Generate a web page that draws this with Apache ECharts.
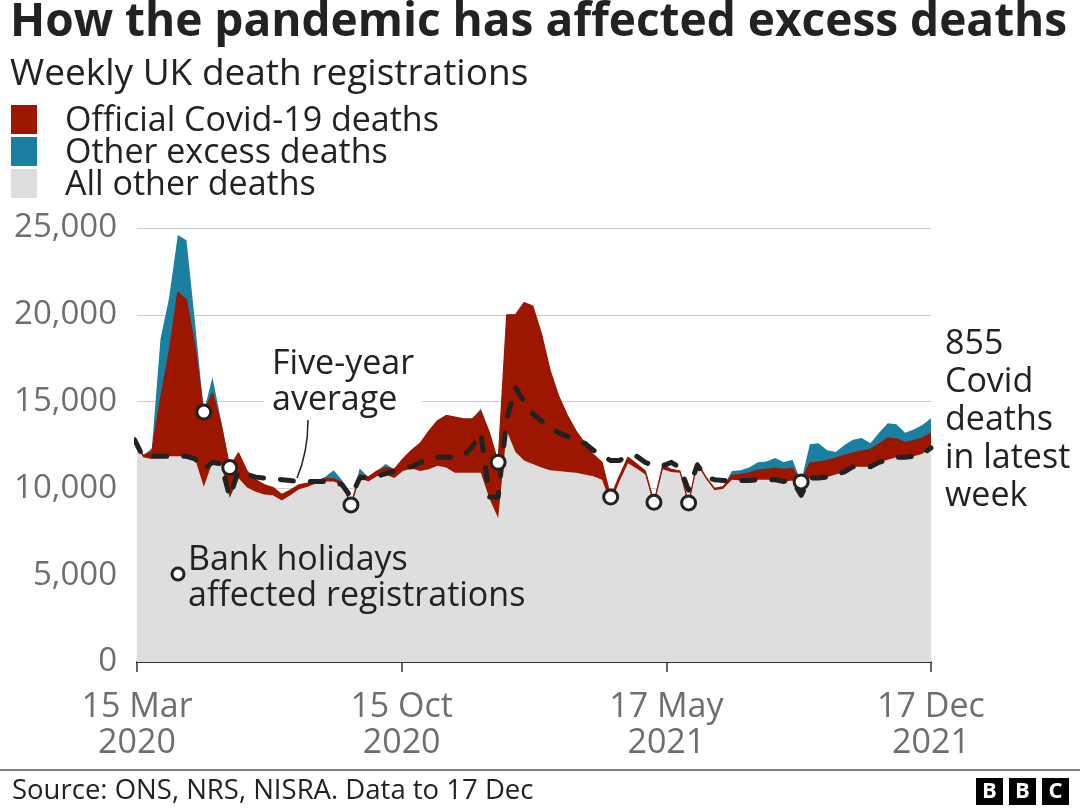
<!DOCTYPE html>
<html><head><meta charset="utf-8">
<script src="https://cdn.jsdelivr.net/npm/echarts@6/dist/echarts.min.js"></script>
<style>html,body{margin:0;padding:0;background:#fff}#c{width:1080px;height:810px}</style>
</head><body><div id="c"></div>
<script>
// Weekly UK death registrations, weeks ending 13 Mar 2020 ... 17 Dec 2021
// x position = days after 15 Mar 2020 (first week ends two days before)
const firstWeekOffsetDays = -2;
const daysPerWeek = 7;
const tickLabels = ['15 Mar\n2020', '15 Oct\n2020', '17 May\n2021', '17 Dec\n2021'];
const tickDays = [0, 214, 428, 642];

const allOtherDeaths = [
  12700, 11800, 11700, 11850, 11850, 11850, 11850, 11700, 10100, 11500,
  11400, 9450, 10600, 10050, 9800, 9650, 9600, 9300, 9600, 9950,
  10100, 10300, 10400, 10400, 10200, 8900, 10600, 10400, 10700, 10800,
  10600, 11000, 11150, 11000, 11100, 11300, 11200, 10900, 10900, 10900,
  10900, 9400, 8300, 13300, 12100, 11600, 11400, 11200, 11050, 11000,
  10950, 10900, 10800, 10700, 10500, 9150, 10400, 11450, 11150, 10800,
  9050, 11100, 10950, 10900, 9080, 11400, 10550, 9900, 9980, 10500,
  10450, 10450, 10500, 10500, 10500, 10400, 10450, 9600, 10600, 10600,
  10650, 10800, 10950, 11250, 11250, 11250, 11500, 11650, 11800, 11800,
  11850, 12000, 12330
];
const officialCovidDeaths = [
  20, 100, 400, 3300, 6000, 9450, 9000, 6400, 4300, 4000,
  2300, 1750, 1450, 950, 700, 550, 450, 350, 300, 250,
  200, 150, 150, 150, 150, 150, 200, 250, 300, 400,
  500, 700, 1050, 1600, 2200, 2600, 3000, 3200, 3100, 3100,
  3550, 3800, 3200, 6700, 7900, 9100, 9100, 7700, 5750, 4300,
  3250, 2400, 1800, 1250, 1000, 350, 300, 350, 250, 200,
  150, 150, 150, 100, 80, 100, 100, 100, 120, 250,
  350, 450, 550, 600, 650, 700, 700, 770, 860, 920,
  950, 950, 950, 800, 900, 1000, 1050, 1250, 1050, 850,
  900, 900, 855
];
const otherExcessDeaths = [
  0, 0, 200, 3450, 3150, 3300, 3450, 1400, 0, 900,
  200, 0, 0, 0, 0, 0, 0, 0, 0, 0,
  0, 0, 100, 500, 100, 0, 350, 0, 0, 200,
  0, 0, 0, 0, 0, 0, 0, 0, 0, 0,
  150, 0, 0, 0, 0, 0, 0, 0, 0, 0,
  0, 0, 0, 0, 0, 0, 0, 0, 0, 0,
  0, 250, 0, 0, 0, 0, 0, 0, 0, 250,
  250, 300, 450, 450, 600, 400, 500, 0, 1090, 1080,
  600, 350, 600, 750, 750, 350, 650, 850, 850, 550,
  650, 750, 860
];
const fiveYearAverage = [
  12800, 11800, 11850, 11850, 11850, 11850, 11850, 11700, 11100, 11500,
  11400, 9500, 11000, 10800, 10650, 10600, 10550, 10500, 10450, 10400,
  10400, 10400, 10400, 10400, 10200, 9500, 10600, 10650, 10700, 10850,
  11000, 11150, 11250, 11500, 11700, 11800, 11800, 11800, 11850, 12400,
  13200, 9500, 9500, 14000, 15800, 15000, 14300, 13900, 13500, 13200,
  13000, 12800, 12600, 12200, 11900, 11600, 11600, 11900, 11850, 11500,
  11300, 11300, 11500, 11200, 9900, 11350, 10650, 10500, 10450, 10500,
  10450, 10450, 10500, 10500, 10500, 10400, 10450, 9600, 10600, 10600,
  10650, 10800, 10950, 11250, 11250, 11250, 11500, 11650, 11800, 11800,
  11850, 12000, 12330
];
const bankHolidayWeeks = [8, 11, 25, 42, 55, 60, 64, 77];

const seriesNames = ['All other deaths', 'Official Covid-19 deaths', 'Other excess deaths'];
const colors = { grey: '#dedede', red: '#9c1600', blue: '#1a80a1', ink: '#222222', axisText: '#6e6e6e' };
const FONT = '"Open Sans"';

const xOf = k => firstWeekOffsetDays + daysPerWeek * k;
// cumulative layer tops (each layer drawn as an area from zero; lower layers painted over upper ones)
const greyTop = allOtherDeaths.map((v, k) => [xOf(k), v]);
const redTop = allOtherDeaths.map((v, k) => [xOf(k), v + officialCovidDeaths[k]]);
const blueTop = allOtherDeaths.map((v, k) => [xOf(k), v + officialCovidDeaths[k] + otherExcessDeaths[k]]);
const avgPts = fiveYearAverage.map((v, k) => [xOf(k), v]);

const chart = echarts.init(document.getElementById('c'), null, { renderer: 'canvas' });

const option = {
  animation: false,
  backgroundColor: '#ffffff',
  grid: { left: 137, right: 149, top: 228, bottom: 148, containLabel: false },
  xAxis: {
    type: 'value', min: 0, max: 642, interval: 214,
    axisLine: { show: true, lineStyle: { color: '#333', width: 2 } },
    axisTick: { show: true, length: 10, lineStyle: { color: '#333', width: 1.5 } },
    splitLine: { show: false },
    axisLabel: {
      margin: 27, color: colors.axisText, fontFamily: FONT, fontSize: 34, lineHeight: 36,
      formatter: v => { const i = tickDays.indexOf(Math.round(v)); return i >= 0 ? tickLabels[i] : ''; }
    }
  },
  yAxis: {
    type: 'value', min: 0, max: 25000, interval: 5000,
    axisLine: { show: false }, axisTick: { show: false },
    splitLine: { show: true, lineStyle: { color: '#cccccc', width: 1 } },
    axisLabel: {
      margin: 20, color: colors.axisText, fontFamily: FONT, fontSize: 33,
      formatter: v => v.toLocaleString('en-GB')
    }
  },
  series: [
    {
      name: seriesNames[2], type: 'line', data: blueTop,
      symbol: 'none', lineStyle: { width: 0 }, areaStyle: { color: colors.blue, opacity: 1 },
      itemStyle: { color: colors.blue }, z: 1
    },
    {
      name: seriesNames[1], type: 'line', data: redTop,
      symbol: 'none', lineStyle: { width: 0 }, areaStyle: { color: colors.red, opacity: 1 },
      itemStyle: { color: colors.red }, z: 2
    },
    {
      name: seriesNames[0], type: 'line', data: greyTop,
      symbol: 'none', lineStyle: { width: 0 }, areaStyle: { color: colors.grey, opacity: 1 },
      itemStyle: { color: colors.grey }, z: 3
    },
    {
      name: 'Covid edge', type: 'line', data: redTop,
      symbol: 'none', lineStyle: { width: 1.3, color: colors.red }, z: 3.5
    },
    {
      name: 'Five-year average', type: 'line', data: avgPts, symbol: 'none',
      lineStyle: { color: colors.ink, width: 5, type: [13, 17], cap: 'round', join: 'round' }, z: 4
    },
    {
      name: 'Bank holidays', type: 'scatter', data: bankHolidayWeeks.map(k => blueTop[k]),
      symbol: 'circle', symbolSize: 14,
      itemStyle: { color: '#ffffff', borderColor: colors.ink, borderWidth: 3, opacity: 1 }, z: 5
    }
  ],
  graphic: [
    { type: 'text', x: 10, y: 23, style: { text: 'How the pandemic has affected excess deaths', font: `bold 46px ${FONT}`, fill: colors.ink, verticalAlign: 'middle' } },
    { type: 'text', x: 10, y: 74, style: { text: 'Weekly UK death registrations', font: `37px ${FONT}`, fill: colors.ink, verticalAlign: 'middle' } },
    { type: 'rect', shape: { x: 11, y: 105, width: 26, height: 29 }, style: { fill: colors.red } },
    { type: 'rect', shape: { x: 11, y: 137, width: 26, height: 29 }, style: { fill: colors.blue } },
    { type: 'rect', shape: { x: 11, y: 169, width: 26, height: 29 }, style: { fill: colors.grey } },
    { type: 'text', x: 65, y: 121, style: { text: seriesNames[1], font: `34px ${FONT}`, fill: colors.ink, verticalAlign: 'middle' } },
    { type: 'text', x: 65, y: 153, style: { text: seriesNames[2], font: `34px ${FONT}`, fill: colors.ink, verticalAlign: 'middle' } },
    { type: 'text', x: 65, y: 185, style: { text: seriesNames[0], font: `34px ${FONT}`, fill: colors.ink, verticalAlign: 'middle' } },
    { type: 'rect', z: 10, shape: { x: 264, y: 342, width: 158, height: 76 }, style: { fill: '#ffffff' } },
    { type: 'text', z: 11, x: 272, y: 382, style: { text: 'Five-year\naverage', font: `34px ${FONT}`, lineHeight: 36, fill: colors.ink, verticalAlign: 'middle' } },
    { type: 'bezierCurve', z: 11, shape: { x1: 308, y1: 420, cpx1: 308, cpy1: 452, x2: 297, y2: 478 }, style: { stroke: colors.ink, lineWidth: 1.5, fill: null } },
    { type: 'circle', z: 11, shape: { cx: 178, cy: 574, r: 6 }, style: { fill: '#fff', stroke: colors.ink, lineWidth: 3 } },
    { type: 'text', z: 11, x: 188, y: 578, style: { text: 'Bank holidays\naffected registrations', font: `34px ${FONT}`, lineHeight: 36, fill: colors.ink, verticalAlign: 'middle' } },
    { type: 'text', z: 11, x: 945, y: 420, style: { text: '855\nCovid\ndeaths\nin latest\nweek', font: `34px ${FONT}`, lineHeight: 38, fill: colors.ink, verticalAlign: 'middle' } },
    { type: 'line', shape: { x1: 0, y1: 770, x2: 1080, y2: 770 }, style: { stroke: '#555', lineWidth: 1.5 } },
    { type: 'text', x: 12, y: 791, style: { text: 'Source: ONS, NRS, NISRA. Data to 17 Dec', font: `27.5px ${FONT}`, fill: colors.ink, verticalAlign: 'middle' } },
    { type: 'rect', shape: { x: 976, y: 778, width: 27, height: 27 }, style: { fill: '#000' } },
    { type: 'rect', shape: { x: 1009, y: 778, width: 27, height: 27 }, style: { fill: '#000' } },
    { type: 'rect', shape: { x: 1042, y: 778, width: 27, height: 27 }, style: { fill: '#000' } },
    { type: 'text', x: 989.5, y: 792, style: { text: 'B', font: `bold 22px ${FONT}`, fill: '#fff', align: 'center', verticalAlign: 'middle' } },
    { type: 'text', x: 1022.5, y: 792, style: { text: 'B', font: `bold 22px ${FONT}`, fill: '#fff', align: 'center', verticalAlign: 'middle' } },
    { type: 'text', x: 1055.5, y: 792, style: { text: 'C', font: `bold 22px ${FONT}`, fill: '#fff', align: 'center', verticalAlign: 'middle' } }
  ]
};
chart.setOption(option);
</script>
</body></html>
